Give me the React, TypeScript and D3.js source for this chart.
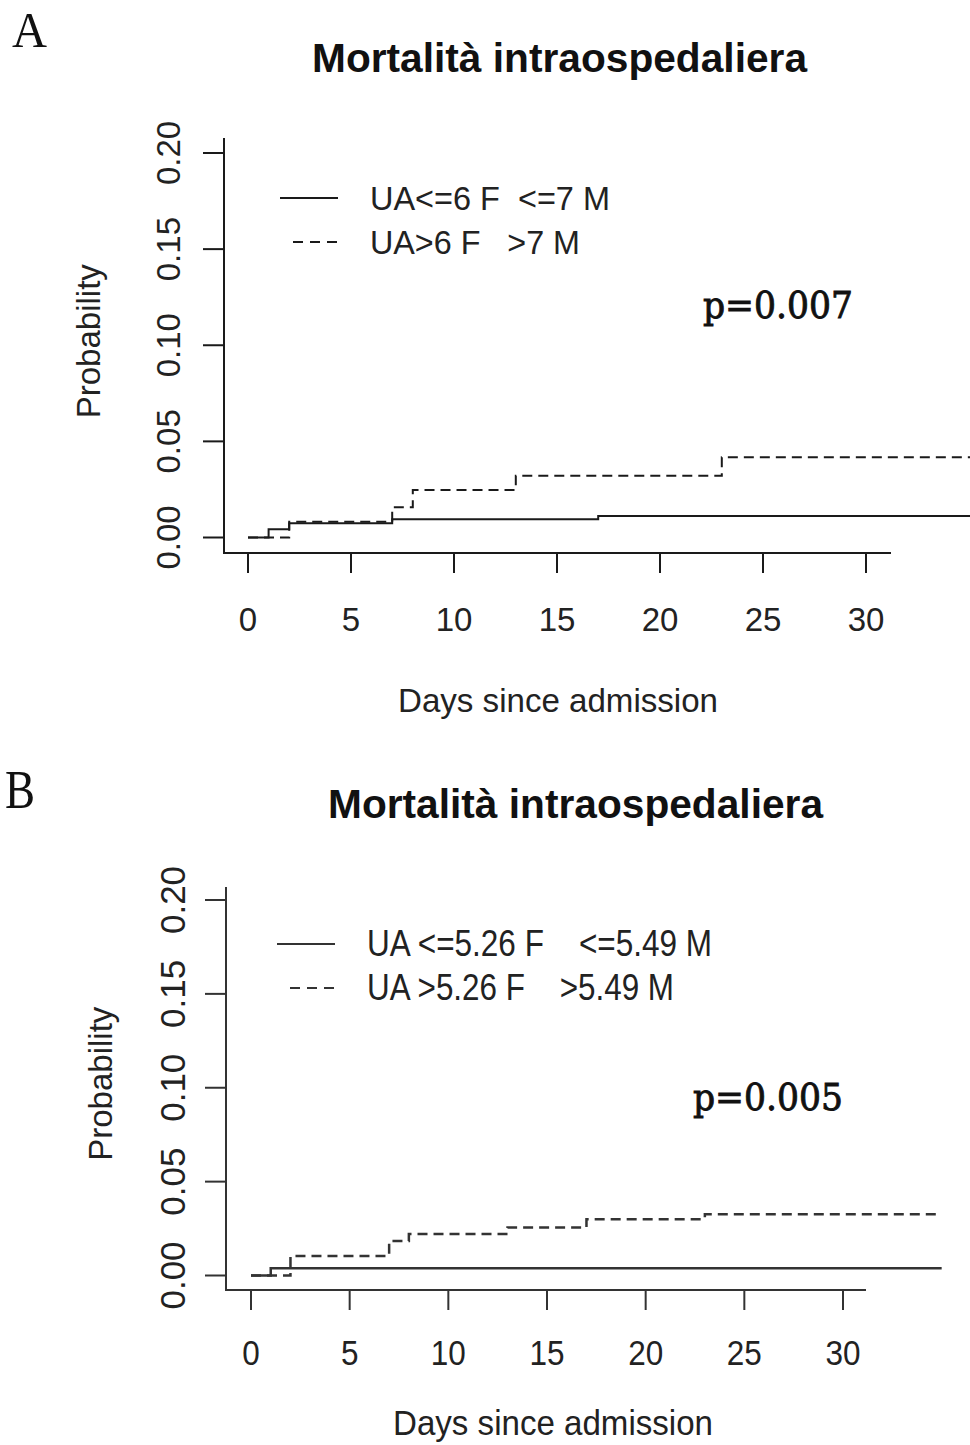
import React from "react";
import * as d3 from "d3";

// Cumulative in-hospital mortality, panel A (UA cut-offs 6 F / 7 M)
const daysA_low = [0, 1, 2, 7, 17];
const probA_low = [0, 0.0043, 0.0074, 0.0095, 0.0112];
const daysA_high = [0, 2, 7, 8, 13, 23];
const probA_high = [0, 0.0082, 0.0157, 0.0247, 0.0321, 0.0417];

// Panel B (UA cut-offs 5.26 F / 5.49 M)
const daysB_low = [0, 1];
const probB_low = [0, 0.0038];
const daysB_high = [0, 2, 7, 8, 13, 17, 23];
const probB_high = [0, 0.0104, 0.0184, 0.0221, 0.0255, 0.03, 0.0326];

const followUpEndA = 35.1;
const followUpEndB = 35.0;

const xTicks = [0, 5, 10, 15, 20, 25, 30];
const yTicks = [0, 0.05, 0.1, 0.15, 0.2];

const title = "Mortalità intraospedaliera";
const xTitle = "Days since admission";
const yTitle = "Probability";
const legendA = ["UA<=6 F  <=7 M", "UA>6 F   >7 M"];
const legendB = ["UA <=5.26 F    <=5.49 M", "UA >5.26 F    >5.49 M"];
const pA = "p=0.007";
const pB = "p=0.005";

type PanelProps = {
  letter: string;
  letterX: number;
  letterY: number;
  letterSize: number;
  letterLen: number;
  titleX: number;
  titleY: number;
  x0: number;
  x30: number;
  y0: number;
  y20: number;
  axisX: number;
  axisTop: number;
  axisY: number;
  axisRight: number;
  lowDays: number[];
  lowProb: number[];
  highDays: number[];
  highProb: number[];
  endDay: number;
  legend: string[];
  legendLens: number[];
  legendX: number;
  legendY: number[];
  legendSize: number;
  pText: string;
  pX: number;
  pY: number;
  color: string;
  lineW: number;
  yLabX: number;
  yTitleX: number;
  xLabY: number;
  xTitleX: number;
  xTitleY: number;
  tickSize: number;
  tickScaleX: number;
};

const sans = "'Liberation Sans', Arial, sans-serif";
const serif = "'Liberation Serif', 'Times New Roman', serif";
const slab = "'DejaVu Serif', serif";

function Panel(p: PanelProps) {
  const x = d3.scaleLinear().domain([0, 30]).range([p.x0, p.x30]);
  const y = d3.scaleLinear().domain([0, 0.2]).range([p.y0, p.y20]);
  const line = d3
    .line<[number, number]>()
    .x((d) => x(d[0]))
    .y((d) => y(d[1]))
    .curve(d3.curveStepAfter);
  const mk = (days: number[], probs: number[]): [number, number][] => {
    const pts: [number, number][] = days.map((d, i) => [d, probs[i]]);
    pts.push([p.endDay, probs[probs.length - 1]]);
    return pts;
  };
  const dash = "10 6";
  const yMid = (p.y0 + p.y20) / 2;
  return (
    <g>
      <text
        x={p.letterX}
        y={p.letterY}
        fontFamily={serif}
        fontSize={p.letterSize}
        textLength={p.letterLen}
        lengthAdjust="spacingAndGlyphs"
        fill="#111"
      >
        {p.letter}
      </text>
      <text
        x={p.titleX}
        y={p.titleY}
        fontFamily={sans}
        fontWeight="bold"
        fontSize={40}
        textLength={495}
        lengthAdjust="spacingAndGlyphs"
        fill="#111"
      >
        {title}
      </text>

      {/* L-shaped frame */}
      <path
        d={`M${p.axisX},${p.axisTop}V${p.axisY}H${p.axisRight}`}
        fill="none"
        stroke={p.color}
        strokeWidth={2}
      />
      {yTicks.map((t) => (
        <g key={`y${t}`}>
          <line x1={p.axisX - 21} x2={p.axisX} y1={y(t)} y2={y(t)} stroke={p.color} strokeWidth={2} />
          <text
            transform={`translate(${p.yLabX},${y(t)}) rotate(-90)`}
            textAnchor="middle"
            fontFamily={sans}
            fontSize={p.tickSize}
            fill="#222"
          >
            {t.toFixed(2)}
          </text>
        </g>
      ))}
      {xTicks.map((t) => (
        <g key={`x${t}`}>
          <line x1={x(t)} x2={x(t)} y1={p.axisY} y2={p.axisY + 20} stroke={p.color} strokeWidth={2} />
          <text
            transform={`translate(${x(t)},${p.xLabY}) scale(${p.tickScaleX},1)`}
            textAnchor="middle"
            fontFamily={sans}
            fontSize={p.tickSize}
            fill="#222"
          >
            {t}
          </text>
        </g>
      ))}
      <text
        x={p.xTitleX}
        y={p.xTitleY}
        textAnchor="middle"
        fontFamily={sans}
        fontSize={p.tickSize}
        textLength={320}
        lengthAdjust="spacingAndGlyphs"
        fill="#222"
      >
        {xTitle}
      </text>
      <text
        transform={`translate(${p.yTitleX},${yMid - 4}) rotate(-90)`}
        textAnchor="middle"
        fontFamily={sans}
        fontSize={33}
        fill="#222"
      >
        {yTitle}
      </text>

      {/* survival-type step curves */}
      <path d={line(mk(p.lowDays, p.lowProb)) || ""} fill="none" stroke={p.color} strokeWidth={p.lineW} />
      <path
        d={line(mk(p.highDays, p.highProb)) || ""}
        fill="none"
        stroke={p.color}
        strokeWidth={p.lineW}
        strokeDasharray={dash}
      />

      {/* legend */}
      <line
        x1={p.legendX - 90}
        x2={p.legendX - 32}
        y1={p.legendY[0] - 12}
        y2={p.legendY[0] - 12}
        stroke={p.color}
        strokeWidth={2}
      />
      <line
        x1={p.legendX - 77}
        x2={p.legendX - 32}
        y1={p.legendY[1] - 12}
        y2={p.legendY[1] - 12}
        stroke={p.color}
        strokeWidth={2}
        strokeDasharray="10 7"
      />
      {p.legend.map((s, i) => (
        <text
          key={s}
          x={p.legendX}
          y={p.legendY[i]}
          fontFamily={sans}
          fontSize={p.legendSize}
          textLength={p.legendLens[i]}
          lengthAdjust="spacingAndGlyphs"
          fill="#222"
          style={{ whiteSpace: "pre" }}
        >
          {s}
        </text>
      ))}
      <text
        x={p.pX}
        y={p.pY}
        fontFamily={slab}
        fontSize={38}
        textLength={150}
        lengthAdjust="spacingAndGlyphs"
        fill="#111"
        stroke="#111"
        strokeWidth={0.9}
      >
        {p.pText}
      </text>
    </g>
  );
}

export default function App() {
  return (
    <svg
      width={970}
      height={1445}
      viewBox="0 0 970 1445"
      style={{ position: "absolute", left: 0, top: 0, background: "#fff" }}
    >
      <rect width={970} height={1445} fill="#fff" />
      <Panel
        letter="A"
        letterX={12}
        letterY={47}
        letterSize={50}
        letterLen={35}
        titleX={312}
        titleY={72}
        x0={248}
        x30={866}
        y0={537.5}
        y20={153}
        axisX={224}
        axisTop={138}
        axisY={553}
        axisRight={891}
        lowDays={daysA_low}
        lowProb={probA_low}
        highDays={daysA_high}
        highProb={probA_high}
        endDay={followUpEndA}
        legend={legendA}
        legendLens={[240, 210]}
        legendX={370}
        legendY={[210, 254]}
        legendSize={33}
        pText={pA}
        pX={703}
        pY={318}
        color="#1a1a1a"
        lineW={2}
        yLabX={180}
        yTitleX={100}
        xLabY={631}
        xTitleX={558}
        xTitleY={712}
        tickSize={33}
        tickScaleX={1}
      />
      <Panel
        letter="B"
        letterX={5}
        letterY={808}
        letterSize={54}
        letterLen={30}
        titleX={328}
        titleY={818}
        x0={251}
        x30={843}
        y0={1275.5}
        y20={900}
        axisX={226}
        axisTop={887}
        axisY={1290}
        axisRight={866}
        lowDays={daysB_low}
        lowProb={probB_low}
        highDays={daysB_high}
        highProb={probB_high}
        endDay={followUpEndB}
        legend={legendB}
        legendLens={[345, 307]}
        legendX={367}
        legendY={[956, 1000]}
        legendSize={36}
        pText={pB}
        pX={693}
        pY={1110}
        color="#333"
        lineW={2.5}
        yLabX={185}
        yTitleX={112}
        xLabY={1365}
        xTitleX={553}
        xTitleY={1435}
        tickSize={35}
        tickScaleX={0.9}
      />
    </svg>
  );
}
